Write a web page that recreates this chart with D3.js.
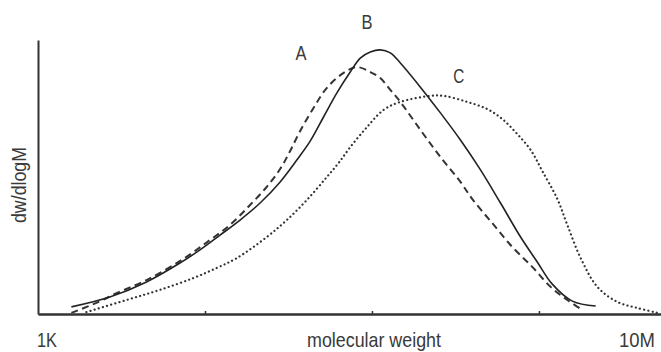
<!DOCTYPE html>
<html><head><meta charset="utf-8">
<script src="https://cdn.jsdelivr.net/npm/d3@7"></script>
<style>
html,body{margin:0;padding:0;background:#fff;}
text{font-family:"Liberation Sans","Arial",sans-serif;fill:#3a3a3a;}
</style></head>
<body><svg id="chart" width="661" height="352"></svg>
<script>
// log10(molecular weight) positions and dw/dlogM values (arbitrary units)
const logM_B = [3.20,3.43,3.65,3.85,3.97,4.09,4.21,4.33,4.45,4.55,4.63,4.71,4.79,4.87,4.93,4.99,5.05,5.11,5.17,5.29,5.41,5.53,5.65,5.77,5.89,5.99,6.08,6.20,6.34];
const val_B  = [2.6,6.2,11.7,18.6,23.4,28.8,34.3,40.5,48.2,56.2,63.1,71.9,80.7,88.3,93.4,95.6,96.4,95.3,91.6,82.8,73.4,63.5,52.6,40.5,28.1,19.0,10.9,4.7,2.9];

const logM_A = [3.20,3.37,3.46,3.65,3.87,4.03,4.15,4.27,4.37,4.45,4.51,4.57,4.65,4.73,4.83,4.91,4.99,5.05,5.11,5.17,5.29,5.41,5.53,5.60,5.72,5.84,5.96,6.07,6.17,6.26];
const val_A  = [0.4,4.6,7.3,12.4,20.1,27.0,32.5,39.8,46.4,52.9,59.5,66.8,75.2,82.5,88.0,90.1,88.3,86.1,81.8,77.4,67.2,57.3,48.2,42.0,33.2,24.5,17.2,9.9,5.1,1.5];

const logM_C = [3.29,3.53,3.73,3.93,4.07,4.19,4.37,4.49,4.61,4.73,4.80,4.87,4.97,5.07,5.17,5.35,5.43,5.57,5.69,5.78,5.87,5.95,6.02,6.11,6.17,6.25,6.35,6.47,6.59,6.71];
const val_C  = [0.7,5.1,8.8,13.1,16.8,20.4,28.1,34.3,41.6,50.0,55.1,60.9,68.2,74.5,77.4,79.6,79.6,77.4,74.8,71.2,65.7,59.9,52.2,42.0,32.5,20.4,9.9,4.4,2.2,0.4];

const seriesNames = ["A","B","C"];
const xTickValues = [4,5,6];
const xEndLabels = ["1K","10M"];
const xTitle = "molecular weight";
const yTitle = "dw/dlogM";

const svg = d3.select("#chart");
const x = d3.scaleLinear().domain([3, 6.731]).range([38, 661]);
const y = d3.scaleLinear().domain([0, 100]).range([314, 40]);

const line = d3.line().x(d=>x(d[0])).y(d=>y(d[1])).curve(d3.curveCatmullRom.alpha(0.5));
const zip = (a,b)=>a.map((v,i)=>[v,b[i]]);

// axes
const xa = svg.append("g").attr("transform","translate(0,314)")
  .call(d3.axisBottom(x).tickValues(xTickValues).tickFormat("").tickSizeInner(-3).tickSizeOuter(0));
xa.select(".domain").attr("stroke","#333").attr("stroke-width",2.5);
xa.selectAll(".tick line").attr("stroke","#333").attr("stroke-width",1.5);

const ya = svg.append("g").attr("transform","translate(38,0)")
  .call(d3.axisLeft(y).tickValues([]).tickSizeOuter(0));
ya.select(".domain").attr("stroke","#333").attr("stroke-width",2);

// curves
svg.append("path").datum(zip(logM_C,val_C)).attr("d",line)
  .attr("fill","none").attr("stroke","#333").attr("stroke-width",2.2)
  .attr("stroke-linecap","round").attr("stroke-dasharray","0.1 4.2");
svg.append("path").datum(zip(logM_A,val_A)).attr("d",line)
  .attr("fill","none").attr("stroke","#333").attr("stroke-width",2)
  .attr("stroke-dasharray","7 4.5");
svg.append("path").datum(zip(logM_B,val_B)).attr("d",line)
  .attr("fill","none").attr("stroke","#222").attr("stroke-width",1.6);

// series labels
const labelPos = [[4.575, 60],[4.97, 29],[5.52, 83]];
seriesNames.forEach((n,i)=>{
  svg.append("text").attr("x",x(labelPos[i][0])).attr("y",labelPos[i][1])
    .attr("text-anchor","middle").attr("font-size",21)
    .attr("textLength",11).attr("lengthAdjust","spacingAndGlyphs").text(n);
});

// axis texts
const fs = 21, by = 347;
svg.append("text").attr("x",37).attr("y",by).attr("font-size",fs)
  .attr("textLength",20).attr("lengthAdjust","spacingAndGlyphs").text(xEndLabels[0]);
svg.append("text").attr("x",619).attr("y",by).attr("font-size",fs)
  .attr("textLength",36).attr("lengthAdjust","spacingAndGlyphs").text(xEndLabels[1]);
svg.append("text").attr("x",307).attr("y",by).attr("font-size",fs)
  .attr("textLength",134).attr("lengthAdjust","spacingAndGlyphs").text(xTitle);
svg.append("text").attr("transform","translate(26,223) rotate(-90)")
  .attr("font-size",fs).attr("textLength",76).attr("lengthAdjust","spacingAndGlyphs").text(yTitle);
</script></body></html>
